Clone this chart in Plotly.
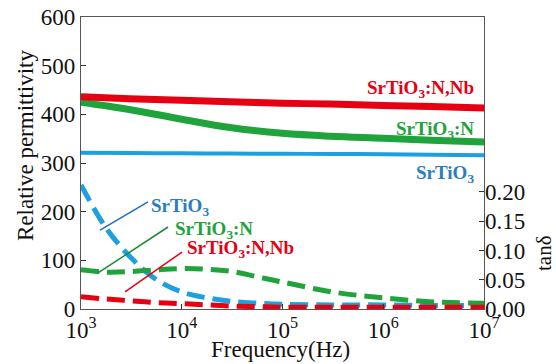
import plotly.graph_objects as go

# permittivity (left axis)
freq_perm = [1e3, 3e3, 1e4, 3e4, 1e5, 3e5, 1e6, 3e6, 1e7]
perm_sto = [321, 320.5, 320, 319.5, 319, 318.5, 318, 317, 316]
perm_n = [425, 410, 390, 373, 361, 355, 351, 347, 343]
perm_nnb = [436, 432, 429, 426, 423, 421, 418, 416, 413]

# tan delta (right axis)
freq_tan = [1e3, 1.78e3, 3.16e3, 5.62e3, 1e4, 1.78e4, 3.16e4, 5.62e4, 1e5, 3.16e5, 1e6, 3.16e6, 1e7]
tan_sto = [0.212, 0.138, 0.087, 0.050, 0.029, 0.019, 0.013, 0.010, 0.008, 0.007, 0.007, 0.006, 0.006]
tan_n = [0.067, 0.063, 0.064, 0.067, 0.069, 0.068, 0.064, 0.055, 0.046, 0.029, 0.019, 0.012, 0.010]
tan_nnb = [0.021, 0.017, 0.014, 0.011, 0.009, 0.007, 0.005, 0.004, 0.003, 0.003, 0.003, 0.003, 0.003]

x_tickvals = [1e3, 1e4, 1e5, 1e6, 1e7]
x_ticktext = ["10<sup>3</sup>", "10<sup>4</sup>", "10<sup>5</sup>", "10<sup>6</sup>", "10<sup>7</sup>"]
y_tickvals = [0, 100, 200, 300, 400, 500, 600]
y2_tickvals = [0, 0.05, 0.10, 0.15, 0.20]
y2_ticktext = ["0.00", "0.05", "0.10", "0.15", "0.20"]

RED = "#e60012"
GREEN = "#1fa33b"
BLUE = "#1ca0e0"
BLUE_T = "#2a7dc0"
FONT = "Liberation Serif"

W, H = 556, 364
L, R, T, B = 81, 556 - 484, 17, 364 - 309
PW, PH = 484 - 81, 309 - 17

fig = go.Figure()
fig.add_trace(go.Scatter(x=freq_perm, y=perm_sto, mode="lines", line=dict(color=BLUE, width=4, shape="spline")))
fig.add_trace(go.Scatter(x=freq_perm, y=perm_n, mode="lines", line=dict(color=GREEN, width=7, shape="spline")))
fig.add_trace(go.Scatter(x=freq_perm, y=perm_nnb, mode="lines", line=dict(color=RED, width=7, shape="spline")))

dash = "18px,8px"
fig.add_trace(go.Scatter(x=freq_tan, y=tan_sto, mode="lines", yaxis="y2", line=dict(color=BLUE, width=5, dash=dash, shape="spline")))
fig.add_trace(go.Scatter(x=freq_tan, y=tan_n, mode="lines", yaxis="y2", line=dict(color=GREEN, width=5, dash=dash, shape="spline")))
fig.add_trace(go.Scatter(x=freq_tan, y=tan_nnb, mode="lines", yaxis="y2", line=dict(color=RED, width=5, dash=dash, shape="spline")))

# leader lines (log-axis shapes take data values)
leaders = [
    (10**3.189, 162, 10**3.665, 220, "#1a6fb8"),
    (10**3.169, 74, 10**3.864, 168.5, "#1a8a36"),
    (10**3.437, 35, 10**4.003, 117, RED),
]
for x0, y0, x1, y1, c in leaders:
    fig.add_shape(type="line", xref="x", yref="y", x0=x0, y0=y0, x1=x1, y1=y1, line=dict(color=c, width=1.5))

lab = lambda s: "<b>" + s + "</b>"
xr = 3 + (476 - 81) / 100.7
anns = [
    (xr, (309 - 86) / 0.4867 - 6, "SrTiO<sub>3</sub>:N,Nb", RED, "right"),
    (xr, (309 - 127) / 0.4867 - 6, "SrTiO<sub>3</sub>:N", GREEN, "right"),
    (xr, (309 - 171) / 0.4867 - 6, "SrTiO<sub>3</sub>", BLUE_T, "right"),
    (3.67, 210, "SrTiO<sub>3</sub>", BLUE_T, "left"),
    (3.91, 163, "SrTiO<sub>3</sub>:N", GREEN, "left"),
    (4.03, 124, "SrTiO<sub>3</sub>:N,Nb", RED, "left"),
]
for x, y, t, c, xa in anns:
    fig.add_annotation(x=x, y=y, xref="x", yref="y", text=lab(t), showarrow=False,
                       xanchor=xa, yanchor="middle", font=dict(family=FONT, size=19, color=c))

axis_font = dict(family=FONT, size=23, color="#111")
fig.add_annotation(x=(25 - 81) / PW, y=(309 - 146) / PH, xref="paper", yref="paper",
                   text="Relative permittivity", textangle=-90, showarrow=False, font=axis_font,
                   xanchor="center", yanchor="middle")
fig.add_annotation(x=(544 - 81) / PW, y=(309 - 253) / PH, xref="paper", yref="paper",
                   text="tanδ", textangle=-90, showarrow=False, font=dict(family=FONT, size=21, color="#111"),
                   xanchor="center", yanchor="middle")
fig.add_annotation(x=(280 - 81) / PW, y=(309 - 349) / PH, xref="paper", yref="paper",
                   text="Frequency(Hz)", showarrow=False, font=axis_font,
                   xanchor="center", yanchor="middle")

fig.update_layout(
    width=W, height=H,
    margin=dict(l=L, r=R, t=T, b=B, autoexpand=False),
    paper_bgcolor="white", plot_bgcolor="white",
    showlegend=False,
    font=dict(family=FONT, size=23, color="#111"),
    xaxis=dict(type="log", range=[3, 7], tickvals=x_tickvals, ticktext=x_ticktext,
               ticks="inside", ticklen=5, tickcolor="#333", showgrid=False, zeroline=False,
               showline=True, linecolor="#555", linewidth=1.2, mirror=True, automargin=False,
               ticklabeloverflow="allow", tickfont=axis_font),
    yaxis=dict(range=[0, 600], tickvals=y_tickvals, ticks="inside", ticklen=5, tickcolor="#333",
               showgrid=False, zeroline=False, showline=True, linecolor="#555", linewidth=1.2, mirror=True,
               automargin=False, ticklabeloverflow="allow", tickfont=axis_font),
    yaxis2=dict(overlaying="y", side="right", range=[0, 0.499], tickvals=y2_tickvals, ticktext=y2_ticktext,
                ticks="inside", ticklen=5, tickcolor="#333", showgrid=False, zeroline=False, showline=False,
                automargin=False, ticklabeloverflow="allow", tickfont=axis_font),
)

fig.write_html("out.html", config={"displayModeBar": False},
               post_script="document.body.style.margin='0';document.body.style.overflow='hidden';")
